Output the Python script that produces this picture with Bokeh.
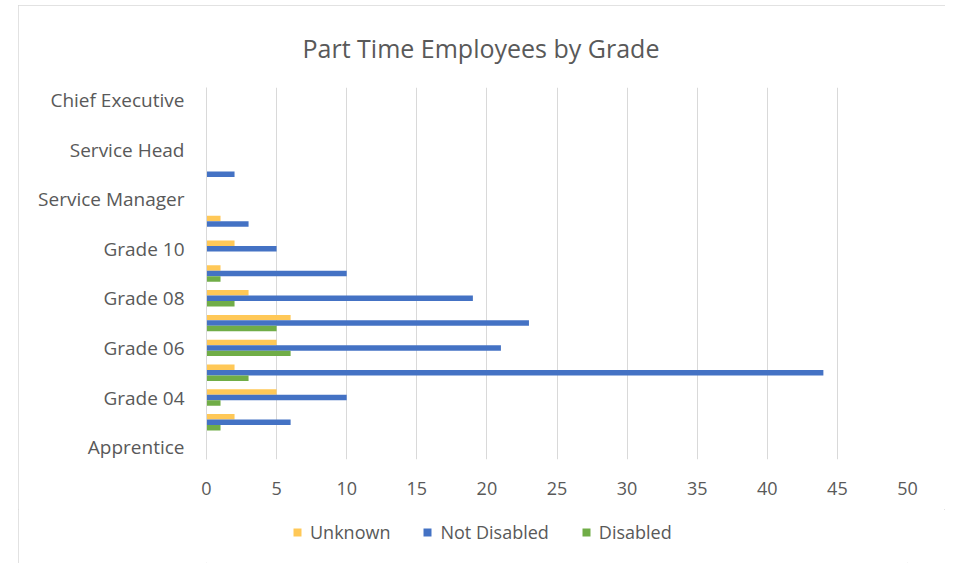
from bokeh.plotting import figure
from bokeh.layouts import column
from bokeh.models import ColumnDataSource, FixedTicker, Legend, LegendItem
from bokeh.embed import file_html
from bokeh.resources import INLINE

categories = ["Apprentice", "Grade 03", "Grade 04", "Grade 05", "Grade 06", "Grade 07",
              "Grade 08", "Grade 09", "Grade 10", "Grade 11", "Service Manager",
              "Senior Manager", "Service Head", "Director", "Chief Executive"]
unknown      = [0, 2, 5, 2, 5, 6, 3, 1, 2, 1, 0, 0, 0, 0, 0]
not_disabled = [0, 6, 10, 44, 21, 23, 19, 10, 5, 3, 0, 2, 0, 0, 0]
disabled     = [0, 1, 1, 3, 6, 5, 2, 1, 0, 0, 0, 0, 0, 0, 0]
series_names = ["Unknown", "Not Disabled", "Disabled"]
colors = ["#FFC857", "#4472C4", "#70AD47"]
x_ticks = [0, 5, 10, 15, 20, 25, 30, 35, 40, 45, 50]

idx = list(range(len(categories)))
src = ColumnDataSource(dict(
    y=idx,
    y_u=[i + 0.22 for i in idx],
    y_d=[i - 0.22 for i in idx],
    unknown=unknown, not_disabled=not_disabled, disabled=disabled,
))

TXT = "#595959"
FONT = "Open Sans"

p = figure(width=927, height=504, x_range=(0, 50), y_range=(-0.5, len(categories) - 0.5),
           output_backend="svg", toolbar_location=None,
           min_border_left=188, min_border_right=38, min_border_top=82, min_border_bottom=50)
p.outline_line_color = None

p.hbar(y="y_u", right="unknown", left=0, height=0.22, source=src, color=colors[0], line_color=None)
p.hbar(y="y", right="not_disabled", left=0, height=0.22, source=src, color=colors[1], line_color=None)
p.hbar(y="y_d", right="disabled", left=0, height=0.22, source=src, color=colors[2], line_color=None)

p.title.text = "Part Time Employees by Grade"
p.title.align = "left"
p.title.offset = 96
p.title.standoff = 45
p.title.text_font = FONT
p.title.text_font_size = "25px"
p.title.text_color = TXT
p.title.text_font_style = "normal"

# x axis
p.xaxis.ticker = FixedTicker(ticks=x_ticks)
p.xaxis.axis_line_color = None
p.xaxis.major_tick_line_color = None
p.xaxis.minor_tick_line_color = None
p.xaxis.major_label_text_font = FONT
p.xaxis.major_label_text_font_size = "18px"
p.xaxis.major_label_text_color = TXT
p.xaxis.major_label_standoff = 16

# y axis
p.yaxis.ticker = FixedTicker(ticks=list(range(0, len(categories), 2)))
p.yaxis.major_label_overrides = {i: categories[i] for i in range(0, len(categories), 2)}
p.yaxis.axis_line_color = "#d9d9d9"
p.yaxis.major_tick_line_color = None
p.yaxis.minor_tick_line_color = None
p.yaxis.major_label_text_font = FONT
p.yaxis.major_label_text_font_size = "19px"
p.yaxis.major_label_text_color = TXT
p.yaxis.major_label_standoff = 16

p.xgrid.grid_line_color = "#d9d9d9"
p.ygrid.grid_line_color = None

# legend strip below the plot (its frame is aligned with the main frame);
# the swatch renderers reuse the series data but lie below the strip's visible range
lg = figure(width=927, height=54, x_range=(0, 50), y_range=(20, 21),
            x_axis_type=None, y_axis_type=None,
            output_backend="svg", toolbar_location=None,
            min_border_left=0, min_border_right=0, min_border_top=0, min_border_bottom=0)
lg.grid.grid_line_color = None
lg.outline_line_color = None
items = []
for name, col, field in zip(series_names, colors, ["unknown", "not_disabled", "disabled"]):
    rr = lg.hbar(y="y", right=field, left=0, height=0.5, source=src, color=col, line_color=None)
    items.append(LegendItem(label=name, renderers=[rr]))
legend = Legend(items=items, orientation="horizontal", location=(86, 19), margin=0, padding=0,
                border_line_color=None, background_fill_alpha=0,
                label_text_font=FONT, label_text_font_size="18px", label_text_color=TXT,
                glyph_width=10, glyph_height=10, label_standoff=8, spacing=32)
lg.add_layout(legend, "center")

layout = column(p, lg, spacing=0)
layout.margin = (5, 0, 0, 18)
layout.styles = {"outline": "1px solid #d9d9d9", "outline-offset": "-1px"}

open("out.html", "w").write(file_html(layout, INLINE))
